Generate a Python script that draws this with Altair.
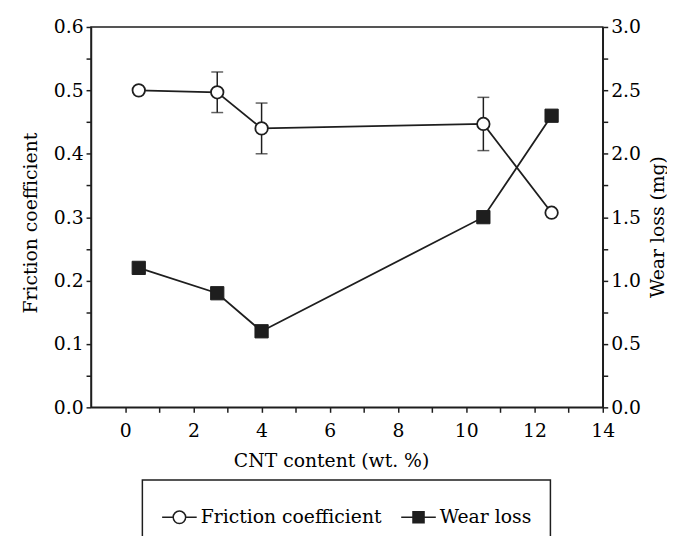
import altair as alt
import pandas as pd

# ---- data ----
cnt = [0.4, 2.7, 4.0, 10.5, 12.5]
friction = [0.500, 0.497, 0.440, 0.447, 0.307]
friction_err = [0.0, 0.032, 0.040, 0.042, 0.0]
wear = [1.10, 0.90, 0.60, 1.50, 2.30]
series_names = ["Friction coefficient", "Wear loss"]
x_ticks = list(range(0, 15))
fric_ticks = [round(i * 0.05, 2) for i in range(13)]
wear_ticks = [round(i * 0.25, 2) for i in range(13)]

fdf = pd.DataFrame({"cnt": cnt, "friction": friction, "err": friction_err,
                    "series": series_names[0]})
fdf["lo"] = fdf["friction"] - fdf["err"]
fdf["hi"] = fdf["friction"] + fdf["err"]
edf = fdf[fdf["err"] > 0]
wdf = pd.DataFrame({"cnt": cnt, "wear": wear, "series": series_names[1]})

FONT = "DejaVu Serif"
INK = "#1e1e1e"

circ_sym = ("M-1,0L-0.36,0M0.36,0A0.36,0.36 0 1,1 -0.36,0"
            "A0.36,0.36 0 1,1 0.36,0M0.36,0L1,0")
square_sym = ("M-1,0L-0.32,0M-0.32,-0.32L0.32,-0.32L0.32,0.32L-0.32,0.32Z"
              "M0.32,0L1,0")

xscale = alt.Scale(domain=[-1, 14], nice=False, zero=False)
x_axis = alt.Axis(values=x_ticks, labelPadding=9,
                  labelExpr="datum.value % 2 == 0 ? format(datum.value, 'd') : ''",
                  title="CNT content (wt. %)", titleX=243, titleY=60,
                  titleAlign="center", titleBaseline="alphabetic", titleAngle=0)

fscale = alt.Scale(domain=[0, 0.6], nice=False, zero=False)
f_axis = alt.Axis(orient="left", values=fric_ticks,
                  labelExpr="abs(datum.value*10 - round(datum.value*10)) < 0.001 ? format(datum.value, '.1f') : ''",
                  title="Friction coefficient", titleAngle=270, titleX=-55, titleY=198,
                  titleAlign="center", titleBaseline="alphabetic")

wscale = alt.Scale(domain=[0, 3.0], nice=False, zero=False)
w_axis = alt.Axis(orient="right", values=wear_ticks,
                  labelExpr="abs(datum.value*2 - round(datum.value*2)) < 0.001 ? format(datum.value, '.1f') : ''",
                  title="Wear loss (mg)", titleAngle=270, titleX=61, titleY=202,
                  titleAlign="center", titleBaseline="alphabetic")

legend = alt.Legend(title=None, orient="none", legendX=52, legendY=458.5,
                    direction="horizontal", padding=19, strokeColor=INK,
                    labelFont=FONT, labelFontSize=19, labelColor="black",
                    labelLimit=400, labelOffset=3, columnPadding=16,
                    symbolSize=1225, symbolStrokeColor=INK, symbolStrokeWidth=1.5,
                    symbolOpacity=1)

X = lambda: alt.X("cnt:Q", scale=xscale, axis=x_axis)

# friction layers
f_base = alt.Chart(fdf)
e_base = alt.Chart(edf)
err_rule = e_base.mark_rule(color=INK, strokeWidth=1.5).encode(
    x=X(), y=alt.Y("lo:Q", scale=fscale, axis=f_axis), y2="hi:Q")
cap_lo = e_base.mark_tick(color=INK, orient="horizontal", size=12, thickness=1.5).encode(
    x=X(), y=alt.Y("lo:Q", scale=fscale, axis=f_axis))
cap_hi = e_base.mark_tick(color=INK, orient="horizontal", size=12, thickness=1.5).encode(
    x=X(), y=alt.Y("hi:Q", scale=fscale, axis=f_axis))
f_line = f_base.mark_line(color=INK, strokeWidth=1.8).encode(
    x=X(), y=alt.Y("friction:Q", scale=fscale, axis=f_axis))
f_pts = f_base.mark_point(shape="circle", size=160, filled=True, fill="white",
                          stroke=INK, strokeWidth=1.8, opacity=1).encode(
    x=X(), y=alt.Y("friction:Q", scale=fscale, axis=f_axis))
legend_dummy = f_base.mark_point(filled=True, opacity=0).encode(
    x=X(), y=alt.Y("friction:Q", scale=fscale, axis=f_axis),
    shape=alt.Shape("series:N", scale=alt.Scale(domain=series_names, range=[circ_sym, square_sym]),
                    legend=legend),
    fill=alt.Fill("series:N", scale=alt.Scale(domain=series_names, range=["white", INK]),
                  legend=legend),
    stroke=alt.Stroke("series:N", scale=alt.Scale(domain=series_names, range=[INK, INK]),
                      legend=legend),
)
fric_layer = alt.layer(err_rule, cap_lo, cap_hi, f_line, f_pts, legend_dummy)

# wear layers
w_base = alt.Chart(wdf)
w_line = w_base.mark_line(color=INK, strokeWidth=1.8).encode(
    x=X(), y=alt.Y("wear:Q", scale=wscale, axis=w_axis))
w_pts = w_base.mark_point(shape="square", size=180, filled=True, fill=INK,
                          stroke=INK, strokeWidth=1, opacity=1).encode(
    x=X(), y=alt.Y("wear:Q", scale=wscale, axis=w_axis))
wear_layer = alt.layer(w_line, w_pts)

chart = alt.layer(fric_layer, wear_layer).resolve_scale(y="independent").properties(
    width=518, height=385,
    autosize=alt.AutoSizeParams(type="none"),
    padding={"left": 84, "top": 16, "right": 65, "bottom": 127},
).configure_view(stroke=INK, strokeWidth=1.5).configure_axis(
    grid=False, domainColor=INK, domainWidth=1.5, tickColor=INK, tickWidth=1.5,
    tickSize=5, labelFont=FONT, labelFontSize=19, labelColor="black", labelPadding=3,
    labelFlush=False, labelOverlap=False, titleFont=FONT, titleFontSize=19,
    titleFontWeight="normal", titleColor="black",
).configure_legend(strokeWidth=1.5)

chart.save("out.html", embed_options={"renderer": "svg", "actions": False})
